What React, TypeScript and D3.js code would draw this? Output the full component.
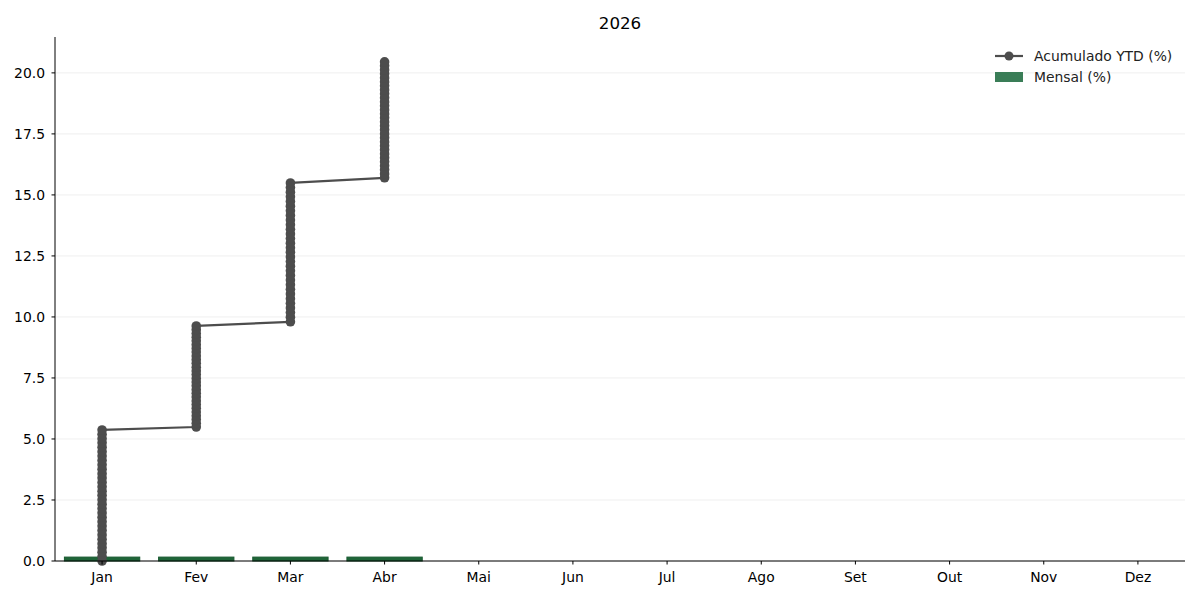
import React from 'react';
import * as d3 from 'd3';

const months = ['Jan', 'Fev', 'Mar', 'Abr', 'Mai', 'Jun', 'Jul', 'Ago', 'Set', 'Out', 'Nov', 'Dez'];

// monthly return bars (%)
const mensal = [0.16, 0.16, 0.16, 0.16, 0, 0, 0, 0, 0, 0, 0, 0];

// accumulated YTD readings (daily), grouped per month
const ytdJan = [0.0, 0.18, 0.36, 0.54, 0.71, 0.89, 1.07, 1.25, 1.43, 1.61, 1.79, 1.97, 2.15, 2.33, 2.51, 2.69, 2.86, 3.04, 3.22, 3.4, 3.58, 3.76, 3.94, 4.12, 4.3, 4.48, 4.66, 4.84, 5.01, 5.19, 5.37];
const ytdFev = [5.49, 5.64, 5.8, 5.95, 6.1, 6.26, 6.41, 6.56, 6.72, 6.87, 7.02, 7.18, 7.33, 7.48, 7.64, 7.79, 7.94, 8.1, 8.25, 8.4, 8.56, 8.71, 8.86, 9.02, 9.17, 9.32, 9.48, 9.63];
const ytdMar = [9.8, 9.99, 10.18, 10.37, 10.56, 10.75, 10.94, 11.13, 11.32, 11.51, 11.7, 11.89, 12.08, 12.27, 12.46, 12.65, 12.83, 13.02, 13.21, 13.4, 13.59, 13.78, 13.97, 14.16, 14.35, 14.54, 14.73, 14.92, 15.11, 15.3, 15.49];
const ytdAbr = [15.7, 15.86, 16.03, 16.19, 16.36, 16.52, 16.68, 16.85, 17.01, 17.17, 17.34, 17.5, 17.67, 17.83, 17.99, 18.16, 18.32, 18.48, 18.65, 18.81, 18.98, 19.14, 19.3, 19.47, 19.63, 19.79, 19.96, 20.12, 20.29, 20.45];

const yTicks = [0, 2.5, 5, 7.5, 10, 12.5, 15, 17.5, 20];

const W = 1200;
const H = 600;
const m = { left: 55, right: 1185, top: 37, bottom: 561 };
const font = 'DejaVu Sans, sans-serif';

export default function App() {
  const x = d3.scaleBand<string>()
    .domain(months)
    .range([m.left, m.right])
    .paddingInner(0.2)
    .paddingOuter(0.1);
  const y = d3.scaleLinear().domain([0, 21.47]).range([m.bottom, m.top]);

  const points: [string, number][] = [
    ...ytdJan.map((v) => ['Jan', v] as [string, number]),
    ...ytdFev.map((v) => ['Fev', v] as [string, number]),
    ...ytdMar.map((v) => ['Mar', v] as [string, number]),
    ...ytdAbr.map((v) => ['Abr', v] as [string, number]),
  ];
  const cx = (k: string) => (x(k) || 0) + x.bandwidth() / 2;
  const line = d3.line<[string, number]>().x((d) => cx(d[0])).y((d) => y(d[1]));

  const lineColor = '#4d4d4d';

  return (
    <svg width={W} height={H} style={{ position: 'absolute', left: 0, top: 0, background: '#fff' }} fontFamily={font}>
      <rect width={W} height={H} fill="#fff" />
      <text x={(m.left + m.right) / 2} y={29} textAnchor="middle" fontSize={16.7} fill="#000">2026</text>

      {/* grid */}
      {yTicks.map((t) => (
        <line key={'g' + t} x1={m.left} x2={m.right} y1={y(t)} y2={y(t)} stroke="#ebebeb" strokeWidth={0.8} />
      ))}

      {/* bars */}
      {months.map((k, i) => mensal[i] > 0 ? (
        <rect key={'b' + k} x={x(k)} width={x.bandwidth()} y={y(mensal[i])} height={y(0) - y(mensal[i])}
          fill="#1f6538" stroke="#185a30" strokeWidth={1} />
      ) : null)}

      {/* YTD line */}
      <path d={line(points) || ''} fill="none" stroke={lineColor} strokeWidth={2.2} strokeLinejoin="round" />
      {points.map((p, i) => (
        <circle key={'p' + i} cx={cx(p[0])} cy={y(p[1])} r={4.8} fill={lineColor} />
      ))}

      {/* axes */}
      <line x1={m.left} x2={m.left} y1={m.top} y2={m.bottom} stroke="#000" strokeWidth={1} />
      <line x1={m.left} x2={m.right} y1={m.bottom} y2={m.bottom} stroke="#000" strokeWidth={1} />
      {yTicks.map((t) => (
        <g key={'y' + t}>
          <line x1={m.left - 3.5} x2={m.left} y1={y(t)} y2={y(t)} stroke="#000" />
          <text x={m.left - 10} y={y(t)} dy="0.35em" textAnchor="end" fontSize={13.9} fill="#000">{t.toFixed(1)}</text>
        </g>
      ))}
      {months.map((k) => (
        <g key={'x' + k}>
          <line x1={cx(k)} x2={cx(k)} y1={m.bottom} y2={m.bottom + 3.5} stroke="#000" />
          <text x={cx(k)} y={m.bottom + 21} textAnchor="middle" fontSize={13.9} fill="#000">{k}</text>
        </g>
      ))}

      {/* legend */}
      <g>
        <line x1={995} x2={1023} y1={56} y2={56} stroke={lineColor} strokeWidth={2.2} />
        <circle cx={1009} cy={56} r={4.5} fill={lineColor} />
        <text x={1034} y={56} dy="0.35em" fontSize={13.9} fill="#222">Acumulado YTD (%)</text>
        <rect x={995} y={72} width={28} height={10} fill="#3a7d57" />
        <text x={1034} y={77} dy="0.35em" fontSize={13.9} fill="#222">Mensal (%)</text>
      </g>
    </svg>
  );
}
